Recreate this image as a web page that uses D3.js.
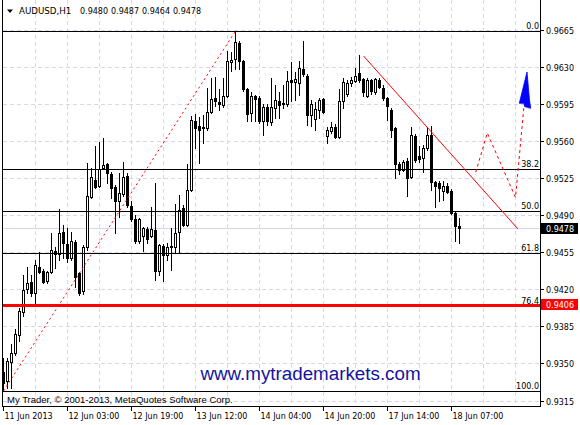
<!DOCTYPE html>
<html>
<head>
<meta charset="utf-8">
<script src="https://cdn.jsdelivr.net/npm/d3@7"></script>
<style>
  html, body { margin: 0; padding: 0; background: #fff; }
  svg { display: block; }
  svg { font-family: 'DejaVu Sans', sans-serif; }
</style>
</head>
<body>
<div id="chart"></div>
<script>
// AUDUSD H1 bars, 11 Jun 2013 .. 18 Jun 2013 07:00
var open = [
  0.9342, 0.9333, 0.9351, 0.9360, 0.9377, 0.9399, 0.9420, 0.9427, 0.9417, 0.9441,
  0.9437, 0.9428, 0.9436, 0.9456, 0.9453, 0.9474, 0.9463, 0.9450, 0.9465, 0.9435,
  0.9418, 0.9460, 0.9507, 0.9523, 0.9518, 0.9535, 0.9538, 0.9529, 0.9517, 0.9503,
  0.9510, 0.9527, 0.9499, 0.9486, 0.9466, 0.9470, 0.9477, 0.9470, 0.9476, 0.9437,
  0.9461, 0.9452, 0.9460, 0.9460, 0.9474, 0.9497, 0.9481, 0.9514, 0.9579, 0.9574,
  0.9572, 0.9572, 0.9588, 0.9601, 0.9597, 0.9594, 0.9603, 0.9635, 0.9638, 0.9653,
  0.9636, 0.9609, 0.9587, 0.9603, 0.9601, 0.9579, 0.9592, 0.9578, 0.9591, 0.9598,
  0.9596, 0.9595, 0.9618, 0.9616, 0.9615, 0.9628, 0.9622, 0.9585, 0.9581, 0.9589,
  0.9600, 0.9565, 0.9570, 0.9573, 0.9564, 0.9598, 0.9605, 0.9615, 0.9617, 0.9624,
  0.9619, 0.9603, 0.9618, 0.9606, 0.9618, 0.9610, 0.9601, 0.9589, 0.9572, 0.9538,
  0.9533, 0.9541, 0.9526, 0.9565, 0.9546, 0.9544, 0.9554, 0.9566, 0.9521, 0.9520,
  0.9513, 0.9518, 0.9513, 0.9492, 0.9480
];
var high = [
  0.9355, 0.9355, 0.9368, 0.9383, 0.9402, 0.9434, 0.9441, 0.9434, 0.9448, 0.9455,
  0.9439, 0.9437, 0.9473, 0.9460, 0.9496, 0.9481, 0.9478, 0.9474, 0.9467, 0.9436,
  0.9462, 0.9539, 0.9535, 0.9555, 0.9559, 0.9563, 0.9539, 0.9531, 0.9519, 0.9530,
  0.9540, 0.9530, 0.9503, 0.9490, 0.9487, 0.9479, 0.9479, 0.9498, 0.9520, 0.9463,
  0.9463, 0.9464, 0.9478, 0.9501, 0.9509, 0.9500, 0.9538, 0.9584, 0.9586, 0.9583,
  0.9585, 0.9610, 0.9620, 0.9621, 0.9609, 0.9620, 0.9645, 0.9644, 0.9664, 0.9655,
  0.9637, 0.9610, 0.9606, 0.9604, 0.9603, 0.9595, 0.9595, 0.9620, 0.9613, 0.9606,
  0.9613, 0.9626, 0.9635, 0.9625, 0.9636, 0.9655, 0.9623, 0.9599, 0.9597, 0.9601,
  0.9601, 0.9573, 0.9578, 0.9576, 0.9609, 0.9620, 0.9618, 0.9621, 0.9629, 0.9641,
  0.9620, 0.9620, 0.9619, 0.9620, 0.9620, 0.9613, 0.9602, 0.9591, 0.9573, 0.9540,
  0.9542, 0.9544, 0.9573, 0.9567, 0.9555, 0.9556, 0.9573, 0.9574, 0.9522, 0.9522,
  0.9522, 0.9520, 0.9515, 0.9493, 0.9487
];
var low = [
  0.9324, 0.9327, 0.9327, 0.9358, 0.9371, 0.9395, 0.9417, 0.9414, 0.9407, 0.9435,
  0.9426, 0.9426, 0.9435, 0.9440, 0.9448, 0.9450, 0.9446, 0.9448, 0.9422, 0.9415,
  0.9416, 0.9457, 0.9506, 0.9516, 0.9517, 0.9534, 0.9520, 0.9506, 0.9473, 0.9488,
  0.9508, 0.9498, 0.9485, 0.9464, 0.9464, 0.9456, 0.9464, 0.9469, 0.9429, 0.9434,
  0.9428, 0.9448, 0.9438, 0.9454, 0.9454, 0.9480, 0.9480, 0.9513, 0.9554, 0.9539,
  0.9558, 0.9571, 0.9587, 0.9593, 0.9589, 0.9592, 0.9602, 0.9626, 0.9628, 0.9628,
  0.9607, 0.9579, 0.9579, 0.9579, 0.9577, 0.9566, 0.9575, 0.9575, 0.9582, 0.9582,
  0.9591, 0.9593, 0.9598, 0.9599, 0.9604, 0.9622, 0.9575, 0.9574, 0.9571, 0.9582,
  0.9587, 0.9558, 0.9568, 0.9563, 0.9563, 0.9591, 0.9603, 0.9612, 0.9616, 0.9616,
  0.9603, 0.9602, 0.9605, 0.9605, 0.9610, 0.9599, 0.9580, 0.9564, 0.9525, 0.9529,
  0.9532, 0.9508, 0.9525, 0.9540, 0.9540, 0.9531, 0.9552, 0.9514, 0.9498, 0.9503,
  0.9504, 0.9511, 0.9491, 0.9466, 0.9464
];
var close = [
  0.9332, 0.9352, 0.9360, 0.9378, 0.9400, 0.9419, 0.9426, 0.9417, 0.9443, 0.9436,
  0.9427, 0.9436, 0.9457, 0.9453, 0.9473, 0.9464, 0.9450, 0.9466, 0.9432, 0.9417,
  0.9460, 0.9508, 0.9526, 0.9517, 0.9534, 0.9537, 0.9530, 0.9516, 0.9503, 0.9511,
  0.9526, 0.9500, 0.9486, 0.9466, 0.9486, 0.9478, 0.9468, 0.9477, 0.9437, 0.9462,
  0.9452, 0.9460, 0.9461, 0.9473, 0.9495, 0.9481, 0.9514, 0.9580, 0.9572, 0.9571,
  0.9573, 0.9588, 0.9600, 0.9598, 0.9595, 0.9603, 0.9636, 0.9637, 0.9654, 0.9636,
  0.9609, 0.9586, 0.9603, 0.9600, 0.9579, 0.9592, 0.9579, 0.9592, 0.9599, 0.9594,
  0.9595, 0.9617, 0.9616, 0.9619, 0.9629, 0.9623, 0.9585, 0.9595, 0.9590, 0.9599,
  0.9588, 0.9571, 0.9573, 0.9564, 0.9598, 0.9616, 0.9615, 0.9618, 0.9622, 0.9618,
  0.9606, 0.9618, 0.9607, 0.9619, 0.9611, 0.9601, 0.9593, 0.9571, 0.9538, 0.9533,
  0.9540, 0.9525, 0.9566, 0.9542, 0.9543, 0.9554, 0.9566, 0.9521, 0.9518, 0.9516,
  0.9518, 0.9512, 0.9492, 0.9480, 0.9478
];

var timeLabels = ['11 Jun 2013', '12 Jun 03:00', '12 Jun 19:00', '13 Jun 12:00',
                  '14 Jun 04:00', '14 Jun 20:00', '17 Jun 14:00', '18 Jun 07:00'];
var timeLabelBars = [0, 16, 32, 48, 64, 80, 96, 112];
var priceTicks = [0.9665, 0.9630, 0.9595, 0.9560, 0.9525, 0.9490, 0.9455,
                  0.9420, 0.9385, 0.9350, 0.9315];

// fibonacci retracement drawn from the low of bar 0 to the high of bar 58
var fibLevels = [0, 38.2, 50, 61.8, 76.4, 100];
var fibLowBar = 0, fibLow = 0.9324;
var fibHighBar = 58, fibHigh = 0.9664;

var supportLevel = 0.9406;

// falling trend line
var trendBars = [90, 128.6];
var trendPrices = [0.96405, 0.94771];

// dashed forecast zigzag and the blue arrow at its end
var forecastBars = [118.05, 120.95, 128, 130.1];
var forecastPrices = [0.95306, 0.95677, 0.95068, 0.95923];
var arrowBars = [130.875, 128.95, 130.125, 130.25, 131.8, 131.5];
var arrowPrices = [0.96253, 0.95958, 0.95958, 0.95927, 0.95910, 0.95989];

var W = 580, H = 425;
var plotRight = 540.5, plotBottom = 406.5;

// 4px per hourly bar
var x = d3.scaleLinear().domain([0, 1]).range([3.5, 7.5]);
var y = d3.scaleLinear().domain([0.9315, 0.9665]).range([400.5, 30]);
var fmt = d3.format('.4f');
var py = p => Math.round(y(p)) + 0.5;

var svg = d3.select('#chart').append('svg')
  .attr('width', W)
  .attr('height', H);

svg.append('defs').append('clipPath').attr('id', 'plotClip')
  .append('rect').attr('x', 3).attr('y', 0).attr('width', plotRight - 3).attr('height', plotBottom);

var plot = svg.append('g').attr('clip-path', 'url(#plotClip)');

// ---- grid ----
var grid = plot.append('g')
  .attr('stroke', '#d6d6ee')
  .attr('stroke-dasharray', '4,3')
  .attr('shape-rendering', 'crispEdges');

grid.selectAll('line.v')
  .data(d3.range(8, 135, 8))
  .enter().append('line')
  .attr('x1', d => x(d) - 0.5).attr('x2', d => x(d) - 0.5)
  .attr('y1', 0).attr('y2', plotBottom);

grid.selectAll('line.h')
  .data(priceTicks)
  .enter().append('line')
  .attr('x1', 3).attr('x2', plotRight)
  .attr('y1', d => py(d)).attr('y2', d => py(d));

// bid line
var bid = close[close.length - 1];
plot.append('line')
  .attr('x1', 3).attr('x2', plotRight)
  .attr('y1', py(bid)).attr('y2', py(bid))
  .attr('stroke', '#d6d6f2')
  .attr('shape-rendering', 'crispEdges');

// ---- candles ----
var bars = d3.range(open.length).map(i => ({ i: i, o: open[i], h: high[i], l: low[i], c: close[i] }));

var candles = plot.append('g').attr('shape-rendering', 'crispEdges')
  .selectAll('g')
  .data(bars)
  .enter().append('g');

candles.append('line')
  .attr('x1', d => x(d.i)).attr('x2', d => x(d.i))
  .attr('y1', d => Math.round(y(d.h)))
  .attr('y2', d => Math.round(y(d.l)) + 1)
  .attr('stroke', '#000');

candles.append('rect')
  .each(function (d) {
    var top = Math.round(y(Math.max(d.o, d.c)));
    var bot = Math.round(y(Math.min(d.o, d.c)));
    var r = d3.select(this);
    if (d.c > d.o) {
      r.attr('x', x(d.i) - 1).attr('y', top + 0.5)
        .attr('width', 2).attr('height', Math.max(bot - top, 1))
        .attr('fill', '#fff').attr('stroke', '#000');
    } else {
      r.attr('x', x(d.i) - 1.5).attr('y', top)
        .attr('width', 3).attr('height', Math.max(bot - top + 1, 1))
        .attr('fill', '#000');
    }
  });

// ---- fibonacci levels ----
var fibPrice = lv => fibHigh - lv / 100 * (fibHigh - fibLow);

plot.append('g').attr('shape-rendering', 'crispEdges')
  .selectAll('line')
  .data(fibLevels)
  .enter().append('line')
  .attr('x1', 3).attr('x2', plotRight)
  .attr('y1', d => py(fibPrice(d))).attr('y2', d => py(fibPrice(d)))
  .attr('stroke', '#000');

// support line
plot.append('line')
  .attr('x1', 3).attr('x2', plotRight)
  .attr('y1', Math.round(y(supportLevel)) + 1).attr('y2', Math.round(y(supportLevel)) + 1)
  .attr('stroke', '#ff0000')
  .attr('stroke-width', 3)
  .attr('shape-rendering', 'crispEdges');

svg.append('g')
  .attr('font-size', 8)
  .attr('text-anchor', 'end')
  .attr('fill', '#000')
  .selectAll('text')
  .data(fibLevels)
  .enter().append('text')
  .attr('x', 539)
  .attr('y', d => Math.round(y(fibPrice(d))) - 2)
  .text(d => d3.format('.1f')(d));

// dotted fib base line
plot.append('line')
  .attr('x1', x(fibLowBar)).attr('y1', y(fibLow))
  .attr('x2', x(fibHighBar)).attr('y2', y(fibHigh))
  .attr('stroke', '#ff0000')
  .attr('stroke-dasharray', '2,3');

// trend line
plot.append('line')
  .attr('x1', x(trendBars[0])).attr('y1', y(trendPrices[0]))
  .attr('x2', x(trendBars[1])).attr('y2', y(trendPrices[1]))
  .attr('stroke', '#ff0000');

// forecast zigzag
var lineGen = d3.line().x(d => x(d[0])).y(d => y(d[1]));
plot.append('path')
  .attr('d', lineGen(d3.zip(forecastBars, forecastPrices)))
  .attr('fill', 'none')
  .attr('stroke', '#ff0000')
  .attr('stroke-dasharray', '3,3');

plot.append('path')
  .attr('d', lineGen(d3.zip(arrowBars, arrowPrices)) + 'Z')
  .attr('fill', '#0000ff')
  .attr('stroke', '#0000ff')
  .attr('stroke-width', 0.8);

// ---- watermark and copyright ----
svg.append('text')
  .attr('x', 310.5).attr('y', 380)
  .attr('text-anchor', 'middle')
  .style('font-family', "'Liberation Sans', Arial, sans-serif")
  .attr('font-size', 18.8)
  .attr('fill', '#1414a0')
  .text('www.mytrademarkets.com');

svg.append('text')
  .attr('x', 7).attr('y', 403)
  .style('font-family', "'Liberation Sans', Arial, sans-serif")
  .attr('font-size', 9.5)
  .attr('fill', '#000')
  .text('My Trader, \u00a9 2001-2013, MetaQuotes Software Corp.');

// ---- frame ----
var frame = svg.append('g').attr('stroke', '#000').attr('shape-rendering', 'crispEdges');
frame.append('line').attr('x1', 2.5).attr('x2', 2.5).attr('y1', 0).attr('y2', plotBottom);
frame.append('line').attr('x1', plotRight).attr('x2', plotRight).attr('y1', 0).attr('y2', plotBottom);
frame.append('line').attr('x1', 2).attr('x2', plotRight + 0.5).attr('y1', plotBottom).attr('y2', plotBottom);

// ---- price axis ----
var pAxis = svg.append('g');
pAxis.selectAll('line')
  .data(priceTicks)
  .enter().append('line')
  .attr('x1', plotRight).attr('x2', 544)
  .attr('y1', d => py(d)).attr('y2', d => py(d))
  .attr('stroke', '#000')
  .attr('shape-rendering', 'crispEdges');
pAxis.selectAll('text')
  .data(priceTicks)
  .enter().append('text')
  .attr('x', 546)
  .attr('y', d => Math.round(y(d)) + 3.5)
  .attr('font-size', 8)
  .text(d => fmt(d));

function priceBox(p, bg) {
  var cy = Math.round(y(p));
  svg.append('rect')
    .attr('x', 541).attr('y', cy - 5)
    .attr('width', 37).attr('height', 11)
    .attr('fill', bg);
  svg.append('text')
    .attr('x', 546).attr('y', cy + 3.5)
    .attr('font-size', 8)
    .attr('fill', '#fff')
    .text(fmt(p));
}
priceBox(supportLevel, '#ff0000');
priceBox(bid, '#000');

// ---- time axis ----
var tAxis = svg.append('g');
tAxis.selectAll('line')
  .data(timeLabelBars)
  .enter().append('line')
  .attr('x1', d => x(d)).attr('x2', d => x(d))
  .attr('y1', plotBottom).attr('y2', 411)
  .attr('stroke', '#000')
  .attr('shape-rendering', 'crispEdges');
tAxis.selectAll('text')
  .data(timeLabels)
  .enter().append('text')
  .attr('x', (d, k) => x(timeLabelBars[k]) + 1)
  .attr('y', 419)
  .attr('font-size', 8)
  .text(d => d);

// ---- header ----
var last = open.length - 1;
svg.append('path').attr('d', 'M7,9.5L13,9.5L10,13Z').attr('fill', '#000');
svg.append('text')
  .attr('x', 19).attr('y', 14)
  .attr('font-size', 8.7)
  .text('AUDUSD,H1');
svg.selectAll('text.hdr')
  .data([open[last], high[last], low[last], close[last]])
  .enter().append('text')
  .attr('class', 'hdr')
  .attr('x', (d, k) => 80 + 31 * k)
  .attr('y', 14)
  .attr('font-size', 8)
  .text(d => fmt(d));
</script>
</body>
</html>
